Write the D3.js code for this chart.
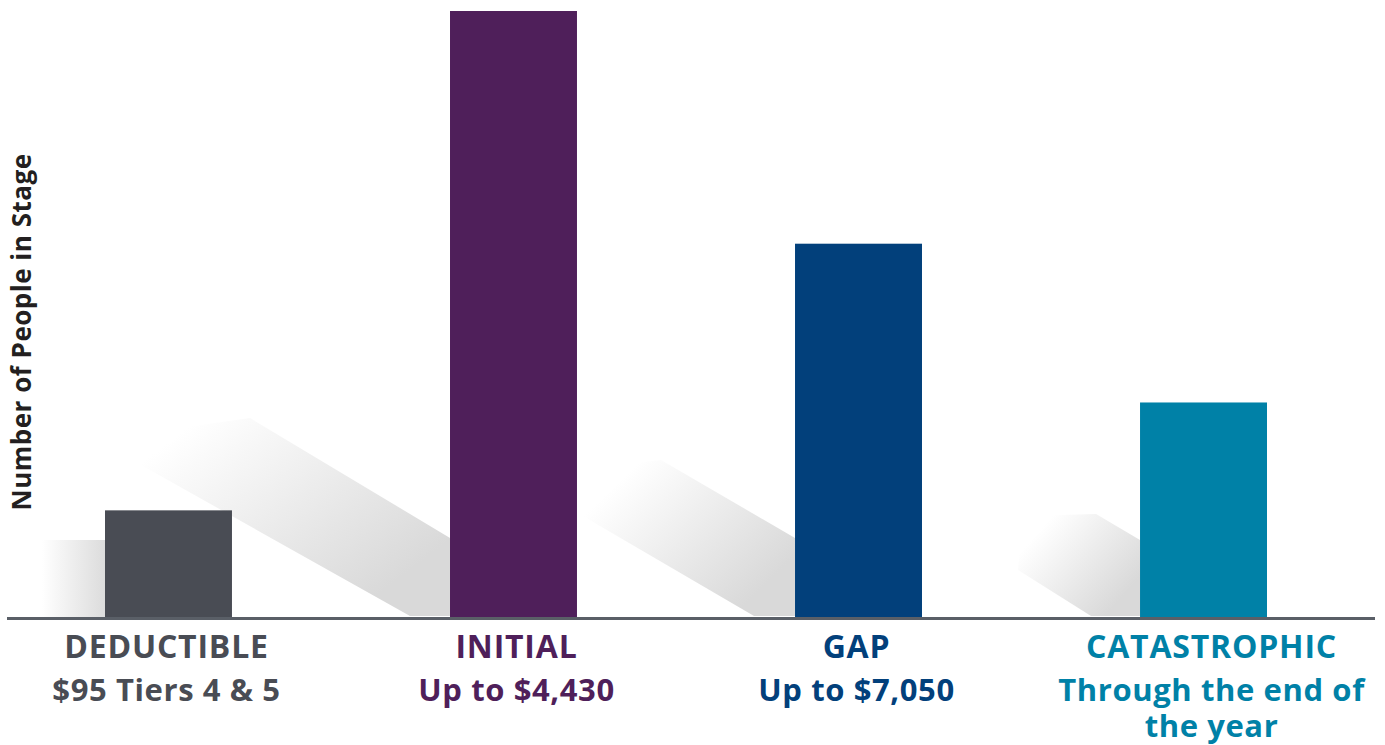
<!DOCTYPE html>
<html>
<script src="https://d3js.org/d3.v7.min.js"></script>

<head>
    <style>
        body {
            margin: 0;
            background-color: white;
            font-family: "Open Sans", Arial, sans-serif;
        }

        svg {
            display: block;
        }
    </style>
</head>

<body>
    <svg width="1385" height="745"></svg>
</body>
<script>
    const width = 1385,
        height = 745;
    const svg = d3.select("svg");

    // stages along the x axis
    const stages = ["DEDUCTIBLE", "INITIAL", "GAP", "CATASTROPHIC"];
    // sub labels under each stage (one entry per line)
    const subLabels = [
        ["$95 Tiers 4 & 5"],
        ["Up to $4,430"],
        ["Up to $7,050"],
        ["Through the end of", "the year"]
    ];
    // relative number of people (no tick labels on the original, read as % of largest)
    const people = [17.6, 100, 61.6, 35.4];
    const colors = ["#494c54", "#4f1f5a", "#02407b", "#0081a7"];

    const baseY = 617;

    function draw() {
        const x = d3.scaleBand().domain(stages).range([1.5, 1370.5]).paddingInner(0.632).paddingOuter(0.3);
        const y = d3.scaleLinear().domain([0, 100]).range([baseY, 11]);

        const defs = svg.append("defs");
        const g1 = defs.append("linearGradient").attr("id", "ShadowSide")
            .attr("x1", 1).attr("y1", 0).attr("x2", 0).attr("y2", 0);
        g1.append("stop").attr("offset", "0%").attr("stop-color", "#dcdcdc");
        g1.append("stop").attr("offset", "100%").attr("stop-color", "#ffffff");
        const g2 = defs.append("linearGradient").attr("id", "ShadowDiag")
            .attr("x1", 0.9).attr("y1", 0.75).attr("x2", 0.15).attr("y2", 0.2);
        g2.append("stop").attr("offset", "0%").attr("stop-color", "#d9d9d9");
        g2.append("stop").attr("offset", "100%").attr("stop-color", "#ffffff");

        // decorative shadows, placed from each bar's left edge
        const shadowShapes = {
            INITIAL: [[-355, 440], [-200, 418], [0, 538], [0, 616], [-40, 616], [-300, 470]],
            GAP: [[-219, 470], [-134, 460], [0, 538], [0, 616], [-41, 616], [-219, 512]],
            CATASTROPHIC: [[-118, 516], [-44, 514], [0, 540], [0, 616], [-49, 616], [-122, 570]]
        };
        svg.append("rect")
            .attr("x", x("DEDUCTIBLE") - 63)
            .attr("y", 540)
            .attr("width", 63)
            .attr("height", baseY - 540)
            .attr("fill", "url(#ShadowSide)");
        Object.keys(shadowShapes).forEach(k => {
            const x0 = x(k);
            svg.append("path")
                .attr("fill", "url(#ShadowDiag)")
                .attr("d", d3.line()(shadowShapes[k].map(p => [x0 + p[0], p[1]])) + "Z");
        });

        // bars
        svg.selectAll("rect.bar")
            .data(stages)
            .join("rect")
            .attr("class", "bar")
            .attr("x", d => x(d))
            .attr("y", (d, i) => y(people[i]))
            .attr("width", x.bandwidth())
            .attr("height", (d, i) => baseY - y(people[i]))
            .attr("fill", (d, i) => colors[i]);

        // baseline
        svg.append("line")
            .attr("x1", 7).attr("x2", 1375)
            .attr("y1", baseY + 1.5).attr("y2", baseY + 1.5)
            .attr("stroke", "#5a5f67")
            .attr("stroke-width", 3);

        // category labels
        const nudge = [-2, 3, -2, 8];
        stages.forEach((s, i) => {
            const cx = x(s) + x.bandwidth() / 2 + nudge[i];
            svg.append("text")
                .attr("x", cx)
                .attr("y", 658)
                .attr("text-anchor", "middle")
                .attr("font-weight", "bold")
                .attr("font-size", "32px")
                .attr("letter-spacing", "0.8px")
                .attr("fill", colors[i])
                .text(s);
            subLabels[i].forEach((t, j) => {
                svg.append("text")
                    .attr("x", cx)
                    .attr("y", 701 + j * 36)
                    .attr("text-anchor", "middle")
                    .attr("font-weight", "bold")
                    .attr("font-size", "31px")
                    .attr("letter-spacing", "0.6px")
                    .attr("fill", colors[i])
                    .text(t);
            });
        });

        // y axis title
        svg.append("text")
            .attr("transform", "translate(31,332) rotate(-90)")
            .attr("text-anchor", "middle")
            .attr("font-weight", "bold")
            .attr("font-size", "26px")
            .attr("letter-spacing", "0.5px")
            .attr("fill", "#231f20")
            .text("Number of People in Stage");
    }

    draw();
</script>

</html>
